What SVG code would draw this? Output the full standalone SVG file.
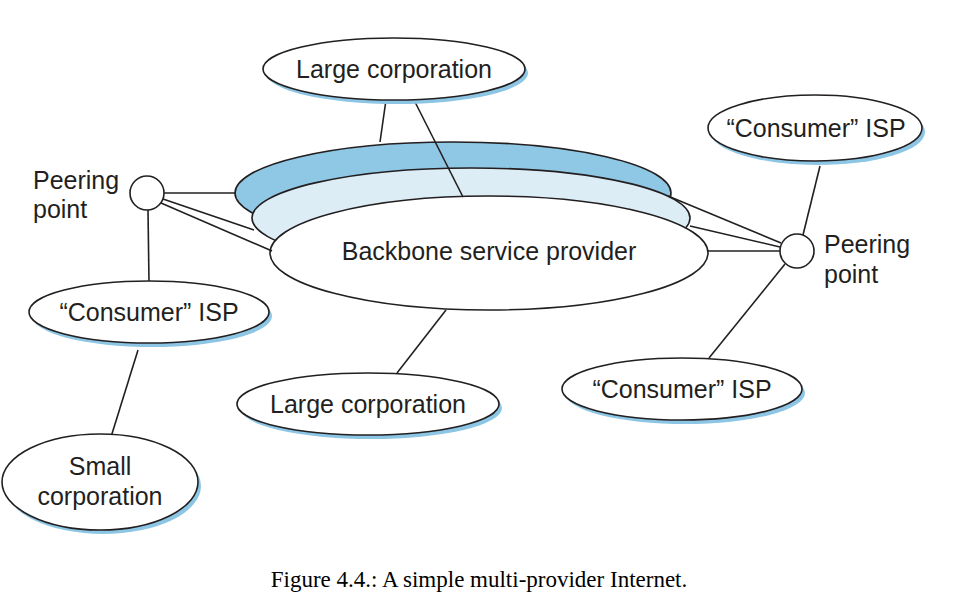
<svg xmlns="http://www.w3.org/2000/svg" width="958" height="602" viewBox="0 0 958 602">
<style>
.n{fill:#fff;stroke:#231f20;stroke-width:1.6}
.sh{fill:#8cc6e4;stroke:none}
.t{font-family:"Liberation Sans",Arial,sans-serif;font-size:25px;fill:#231f20;text-anchor:middle}
.tl{font-family:"Liberation Sans",Arial,sans-serif;font-size:25px;fill:#231f20}
.c line{stroke:#231f20;stroke-width:1.6}
.cap{font-family:"Liberation Serif","Times New Roman",serif;font-size:23px;fill:#000;text-anchor:middle}
</style>
<rect width="958" height="602" fill="#fff"/>
<g id="backbone">
<ellipse cx="453" cy="193" rx="218" ry="51" fill="#8fc8e5" stroke="#231f20" stroke-width="1.6"/>
<ellipse cx="471" cy="218" rx="219" ry="50" fill="#dcedf6" stroke="#231f20" stroke-width="1.6"/>
<ellipse class="n" cx="489" cy="253" rx="219" ry="57"/>
<text class="t" x="489" y="260">Backbone service provider</text>
</g>
<g class="c" id="connectors">
<line x1="380" y1="142" x2="386" y2="100"/>
<line x1="414" y1="100" x2="463" y2="197"/>
<line x1="164" y1="193" x2="236" y2="193"/>
<line x1="163" y1="199" x2="254" y2="230"/>
<line x1="161" y1="203" x2="272" y2="251"/>
<line x1="148" y1="210" x2="149" y2="282"/>
<line x1="780" y1="251" x2="708" y2="251"/>
<line x1="780" y1="247" x2="690" y2="226"/>
<line x1="781" y1="243" x2="668" y2="196"/>
<line x1="803" y1="235" x2="820" y2="166"/>
<line x1="785" y1="264" x2="709" y2="358"/>
<line x1="138" y1="350" x2="111" y2="437"/>
<line x1="397" y1="373" x2="446" y2="310"/>
</g>
<g id="large-corp-top">
<ellipse class="sh" cx="397" cy="73" rx="131" ry="31"/>
<ellipse class="n" cx="394" cy="69" rx="131" ry="31"/>
<text class="t" x="394" y="78">Large corporation</text>
</g>
<g id="peering-left">
<circle class="n" cx="147" cy="193" r="17"/>
<text class="tl" x="33" y="189">Peering</text>
<text class="tl" x="33" y="218">point</text>
</g>
<g id="peering-right">
<circle class="n" cx="797" cy="251" r="17"/>
<text class="tl" x="824" y="253">Peering</text>
<text class="tl" x="824" y="283">point</text>
</g>
<g id="isp-top-right">
<ellipse class="sh" cx="818" cy="132" rx="107" ry="33"/>
<ellipse class="n" cx="815" cy="128" rx="107" ry="33"/>
<text class="t" x="816" y="137">“Consumer” ISP</text>
</g>
<g id="isp-bottom-right">
<ellipse class="sh" cx="685" cy="393" rx="120" ry="31"/>
<ellipse class="n" cx="682" cy="389" rx="120" ry="31"/>
<text class="t" x="682" y="398">“Consumer” ISP</text>
</g>
<g id="isp-left">
<ellipse class="sh" cx="152" cy="316" rx="120" ry="31"/>
<ellipse class="n" cx="149" cy="312" rx="120" ry="31"/>
<text class="t" x="149" y="321">“Consumer” ISP</text>
</g>
<g id="small-corp">
<ellipse class="sh" cx="103" cy="486" rx="98" ry="48"/>
<ellipse class="n" cx="100" cy="482" rx="98" ry="48"/>
<text class="t" x="100" y="475">Small</text>
<text class="t" x="100" y="505">corporation</text>
</g>
<g id="large-corp-bottom">
<ellipse class="sh" cx="371" cy="408" rx="131" ry="31"/>
<ellipse class="n" cx="368" cy="404" rx="131" ry="31"/>
<text class="t" x="368" y="413">Large corporation</text>
</g>
<text class="cap" x="479" y="587">Figure 4.4.: A simple multi-provider Internet.</text>
</svg>
